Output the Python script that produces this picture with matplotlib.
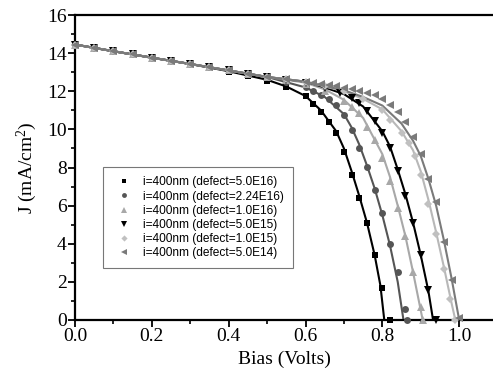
import matplotlib
matplotlib.use("Agg")
import matplotlib.pyplot as plt

plt.rcParams['font.family'] = ['Liberation Serif', 'DejaVu Serif']
plt.rcParams['mathtext.fontset'] = 'custom'
plt.rcParams['mathtext.rm'] = 'Liberation Serif'
plt.rcParams['mathtext.it'] = 'Liberation Serif:italic'

labels = ["i=400nm (defect=5.0E16)", "i=400nm (defect=2.24E16)", "i=400nm (defect=1.0E16)",
          "i=400nm (defect=5.0E15)", "i=400nm (defect=1.0E15)", "i=400nm (defect=5.0E14)"]

# common low-bias part of the measured points
v_low = [0.0, 0.05, 0.1, 0.15, 0.2, 0.25, 0.3, 0.35, 0.4, 0.45, 0.5]
j_low = [14.45, 14.27, 14.1, 13.93, 13.76, 13.6, 13.43, 13.26, 13.09, 12.92, 12.75]

# marker series (simulation points)
v1 = [0.0, 0.05, 0.1, 0.15, 0.2, 0.25, 0.3, 0.35, 0.4, 0.45, 0.5, 0.55, 0.6, 0.62, 0.64, 0.66, 0.68, 0.7, 0.72, 0.74, 0.76, 0.78, 0.8, 0.82]
j1 = [14.45, 14.27, 14.1, 13.93, 13.76, 13.58, 13.4, 13.2, 13.0, 12.8, 12.54, 12.22, 11.75, 11.35, 10.9, 10.4, 9.8, 8.8, 7.6, 6.4, 5.1, 3.4, 1.7, 0.0]
v2 = v_low + [0.55, 0.6, 0.62, 0.64, 0.66, 0.68, 0.7, 0.72, 0.74, 0.76, 0.78, 0.8, 0.82, 0.84, 0.86, 0.865]
j2 = j_low + [12.5, 12.2, 12.0, 11.8, 11.6, 11.3, 10.75, 9.95, 9.0, 8.05, 6.8, 5.6, 4.0, 2.5, 0.6, 0.0]
v3 = v_low + [0.55, 0.6, 0.65, 0.7, 0.72, 0.74, 0.76, 0.78, 0.8, 0.82, 0.84, 0.86, 0.88, 0.9, 0.905]
j3 = j_low + [12.6, 12.4, 12.0, 11.5, 11.2, 10.85, 10.15, 9.45, 8.5, 7.3, 5.9, 4.4, 2.5, 0.7, 0.0]
v4 = v_low + [0.55, 0.6, 0.65, 0.69, 0.72, 0.74, 0.76, 0.78, 0.8, 0.82, 0.84, 0.86, 0.88, 0.9, 0.92, 0.94]
j4 = j_low + [12.6, 12.45, 12.15, 11.9, 11.65, 11.4, 10.95, 10.45, 9.8, 9.0, 7.8, 6.5, 5.1, 3.4, 1.6, 0.0]
v5 = v_low + [0.55, 0.6, 0.65, 0.7, 0.75, 0.8, 0.82, 0.85, 0.87, 0.885, 0.9, 0.92, 0.94, 0.96, 0.975, 0.99]
j5 = j_low + [12.62, 12.5, 12.3, 12.0, 11.6, 11.0, 10.5, 9.8, 9.3, 8.6, 7.6, 6.1, 4.5, 2.7, 1.1, 0.0]
v6 = v_low + [0.55, 0.6, 0.62, 0.64, 0.66, 0.68, 0.7, 0.72, 0.74, 0.76, 0.78, 0.8, 0.82, 0.84, 0.86, 0.88, 0.9, 0.92, 0.94, 0.96, 0.98, 1.0]
j6 = j_low + [12.62, 12.5, 12.45, 12.4, 12.33, 12.25, 12.17, 12.1, 12.0, 11.9, 11.8, 11.6, 11.3, 10.9, 10.4, 9.6, 8.7, 7.4, 6.2, 4.1, 2.1, 0.1]

# fitted lines
lv1 = [0.0, 0.1, 0.2, 0.3, 0.4, 0.5, 0.55, 0.6, 0.64, 0.68, 0.7, 0.72, 0.74, 0.76, 0.78, 0.795, 0.805]
lj1 = [14.45, 14.1, 13.76, 13.43, 13.05, 12.6, 12.25, 11.75, 11.0, 9.9, 9.0, 7.8, 6.5, 5.1, 3.4, 1.8, 0.0]
lv2 = [0.0, 0.1, 0.2, 0.3, 0.4, 0.5, 0.6, 0.65, 0.7, 0.72, 0.74, 0.76, 0.78, 0.8, 0.82, 0.84, 0.855]
lj2 = [14.45, 14.1, 13.76, 13.43, 13.09, 12.75, 12.2, 11.7, 10.8, 10.1, 9.2, 8.1, 6.9, 5.5, 3.9, 2.0, 0.0]
lv3 = [0.0, 0.1, 0.2, 0.3, 0.4, 0.5, 0.6, 0.65, 0.7, 0.75, 0.8, 0.82, 0.84, 0.86, 0.88, 0.895, 0.905]
lj3 = [14.45, 14.1, 13.76, 13.43, 13.09, 12.75, 12.45, 12.1, 11.55, 10.6, 8.7, 7.5, 6.0, 4.4, 2.5, 1.0, 0.0]
lv4 = [0.0, 0.1, 0.2, 0.3, 0.4, 0.5, 0.6, 0.65, 0.7, 0.75, 0.8, 0.82, 0.84, 0.86, 0.88, 0.9, 0.92, 0.932]
lj4 = [14.45, 14.1, 13.76, 13.43, 13.09, 12.75, 12.5, 12.2, 11.85, 11.2, 9.9, 9.1, 7.9, 6.6, 5.1, 3.4, 1.5, 0.0]
lv5 = [0.0, 0.1, 0.2, 0.3, 0.4, 0.5, 0.6, 0.7, 0.75, 0.8, 0.85, 0.88, 0.9, 0.92, 0.94, 0.96, 0.98, 0.99]
lj5 = [14.45, 14.1, 13.76, 13.43, 13.09, 12.75, 12.5, 12.0, 11.6, 11.05, 9.9, 8.9, 7.8, 6.3, 4.6, 2.8, 0.9, 0.0]
lv6 = [0.0, 0.1, 0.2, 0.3, 0.4, 0.5, 0.6, 0.7, 0.75, 0.8, 0.85, 0.88, 0.9, 0.92, 0.94, 0.96, 0.98, 1.0]
lj6 = [14.45, 14.1, 13.76, 13.43, 13.09, 12.75, 12.5, 12.05, 11.7, 11.25, 10.3, 9.4, 8.6, 7.4, 6.0, 4.2, 2.2, 0.0]

mv = [v1, v2, v3, v4, v5, v6]
mj = [j1, j2, j3, j4, j5, j6]
lvs = [lv1, lv2, lv3, lv4, lv5, lv6]
ljs = [lj1, lj2, lj3, lj4, lj5, lj6]
markers = ['s', 'o', '^', 'v', 'D', '<']
mcolors = ['#000000', '#555555', '#a8a8a8', '#000000', '#c0c0c0', '#7a7a7a']
lcolors = ['#000000', '#555555', '#a8a8a8', '#000000', '#b8b8b8', '#7a7a7a']
msizes = [4.5, 5, 5.5, 5.5, 4.5, 5.5]

fig = plt.figure(figsize=(4.93, 3.87), dpi=100)
ax = fig.add_axes([75/493, 67/387, 1 - 75/493, (320-15)/387])

for i in range(6):
    ax.plot(lvs[i], ljs[i], color=lcolors[i], lw=1.5, zorder=2)
    ax.plot(mv[i], mj[i], linestyle='none', marker=markers[i], color=mcolors[i],
            markersize=msizes[i], markeredgewidth=0, label=labels[i], zorder=3, clip_on=False)

ax.set_xlim(0, 1.088)
ax.set_ylim(0, 16)
ax.set_xticks([0.0, 0.2, 0.4, 0.6, 0.8, 1.0])
ax.set_xticklabels(['0.0', '0.2', '0.4', '0.6', '0.8', '1.0'])
ax.set_xticks([0.1, 0.3, 0.5, 0.7, 0.9], minor=True)
ax.set_yticks([0, 2, 4, 6, 8, 10, 12, 14, 16])
ax.set_yticks([1, 3, 5, 7, 9, 11, 13, 15], minor=True)
ax.tick_params(which='major', direction='out', length=5, width=1.3, labelsize=14, pad=1)
ax.tick_params(which='minor', direction='out', length=3, width=1.2)
ax.tick_params(axis='x', which='both', top=False)
for s in ['left', 'bottom', 'top']:
    ax.spines[s].set_linewidth(1.6)
ax.spines['right'].set_visible(False)

ax.set_xlabel('Bias (Volts)', fontsize=14, labelpad=4)
ax.set_ylabel(r'J (mA/cm$^{2}$)', fontsize=14, labelpad=6)

leg = ax.legend(loc='upper left', bbox_to_anchor=(0.067, 0.5), frameon=True, fancybox=False,
                edgecolor='#555555', prop={'family': 'Liberation Sans', 'size': 8.6},
                handletextpad=0.6, labelspacing=0.18, borderpad=0.75, handlelength=2.0,
                markerscale=0.7, borderaxespad=0)
leg.get_frame().set_linewidth(0.8)

fig.savefig('out.png', dpi=100)
